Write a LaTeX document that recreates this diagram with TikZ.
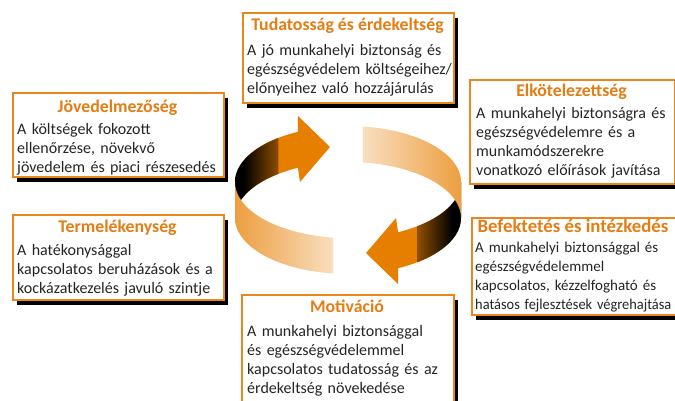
\documentclass[tikz,border=0pt]{standalone}
\usepackage{fontspec}
\setmainfont{Carlito}
\usetikzlibrary{shadows}
\definecolor{ora}{RGB}{230,126,0}
\definecolor{bord}{RGB}{233,135,30}
\definecolor{ttlc}{RGB}{228,125,20}
\definecolor{txt}{RGB}{40,36,37}
\pgfdeclarehorizontalshading{blackora}{100bp}{color(0bp)=(black); color(35bp)=(black); color(100bp)=(ora)}
\pgfdeclarehorizontalshading{orablack}{100bp}{color(0bp)=(ora); color(65bp)=(black); color(100bp)=(black)}
\pgfdeclarehorizontalshading{orawhite}{100bp}{color(0bp)=(ora); color(100bp)=(white)}
\pgfdeclarehorizontalshading{whiteora}{100bp}{color(0bp)=(white); color(100bp)=(ora)}
\tikzset{
  box/.style={draw=bord, line width=1.8pt, fill=white, inner sep=0pt, anchor=north west,
    drop shadow={shadow xshift=4pt, shadow yshift=-5pt, fill=black, opacity=1}},
  ttl/.style={anchor=base, inner sep=0pt, text=ttlc, font=\fontsize{17.8}{20}\selectfont\bfseries},
  bodytxt/.style={anchor=base west, inner sep=0pt, text=txt, text width=260pt, align=left,
    font=\fontsize{16}{19}\selectfont},
}
\begin{document}
\begin{tikzpicture}[x=1pt,y=-1pt]
\useasboundingbox (0,0) rectangle (675,401);
\clip (0,0) rectangle (675,401);
% ring
\fill[ora] plot[domain=180:116.3,samples=40] ({348+113*cos(\x)},{182-56*sin(\x)})
  -- (298,116) -- (330,147) -- (300,182)
  -- plot[domain=116.3:180,samples=40] ({348+113*cos(\x)},{218-56*sin(\x)}) -- cycle;
\shade[shading=blackora] plot[domain=180:128,samples=30] ({348+113*cos(\x)},{182-56*sin(\x)})
  -- plot[domain=128:180,samples=30] ({348+113*cos(\x)},{218-56*sin(\x)}) -- cycle;
\shade[shading=orawhite] plot[domain=180:262.4,samples=50] ({348+113*cos(\x)},{182-56*sin(\x)})
  -- plot[domain=262.4:180,samples=50] ({348+113*cos(\x)},{218-56*sin(\x)}) -- cycle;
\fill[ora] plot[domain=360:296.3,samples=40] ({348+113*cos(\x)},{218-56*sin(\x)})
  -- (398,284) -- (366,253) -- (396,218)
  -- plot[domain=296.3:360,samples=40] ({348+113*cos(\x)},{182-56*sin(\x)}) -- cycle;
\shade[shading=orablack] plot[domain=360:308,samples=30] ({348+113*cos(\x)},{218-56*sin(\x)})
  -- plot[domain=308:360,samples=30] ({348+113*cos(\x)},{182-56*sin(\x)}) -- cycle;
\shade[shading=whiteora] plot[domain=0:82.4,samples=50] ({348+113*cos(\x)},{218-56*sin(\x)})
  -- plot[domain=82.4:0,samples=50] ({348+113*cos(\x)},{182-56*sin(\x)}) -- cycle;
% boxes
\node[box, minimum width=211pt, minimum height=90pt] (b1) at (242,12) {};
\node[ttl] (t1) at (347.5,31) {Tudatosság és érdekeltség};
\node[bodytxt] (d1) at (247,56) {A jó munkahelyi biztonság és\\egészségvédelem költségeihez/\\előnyeihez való hozzájárulás};

\node[box, minimum width=205pt, minimum height=104pt] (b2) at (469,79) {};
\node[ttl] (t2) at (571.5,97) {Elkötelezettség};
\node[bodytxt] (d2) at (476,119) {A munkahelyi biztonságra és\\egészségvédelemre és a\\munkamódszerekre\\vonatkozó előírások javítása};

\node[box, minimum width=211pt, minimum height=84pt] (b3) at (12,92) {};
\node[ttl] (t3) at (117.5,113) {Jövedelmezőség};
\node[bodytxt] (d3) at (17,135) {A költségek fokozott\\ellenőrzése, növekvő\\jövedelem és piaci részesedés};

\node[box, minimum width=211pt, minimum height=85pt] (b4) at (12,214) {};
\node[ttl] (t4) at (117.5,233) {Termelékenység};
\node[bodytxt] (d4) at (17,255) {A hatékonysággal\\kapcsolatos beruházások és a\\kockázatkezelés javuló szintje};

\node[box, minimum width=210pt, minimum height=97pt] (b5) at (471,217) {};
\node[ttl, font=\fontsize{18.8}{20}\selectfont\bfseries] (t5) at (573,233) {Befektetés és intézkedés};
\node[bodytxt, font=\fontsize{15}{19}\selectfont] (d5) at (475,252) {A munkahelyi biztonsággal és\\egészségvédelemmel\\kapcsolatos, kézzelfogható és\\\scalebox{0.96}[1]{hatásos fejlesztések végrehajtása}};

\node[box, minimum width=212pt, minimum height=120pt] (b6) at (241,294) {};
\node[ttl] (t6) at (347,312) {Motiváció};
\node[bodytxt] (d6) at (247,336) {A munkahelyi biztonsággal\\és egészségvédelemmel\\kapcsolatos tudatosság és az\\érdekeltség növekedése};
\end{tikzpicture}
\end{document}
